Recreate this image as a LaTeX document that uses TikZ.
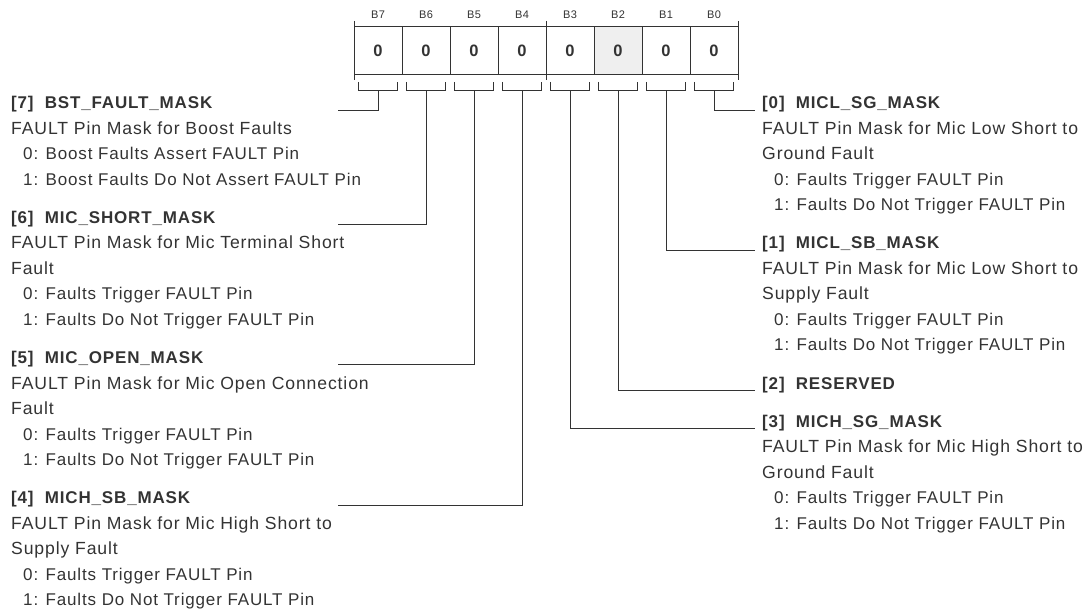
\documentclass[tikz,border=0pt]{standalone}
\usepackage{fontspec}
\setmainfont{Liberation Sans}[LetterSpace=5]
\definecolor{ink}{HTML}{333333}
\definecolor{cellgray}{HTML}{EFEFEF}
% value lines: a bit smaller and indented
\newcommand{\subind}{\fontsize{17}{17}\selectfont\hspace*{12pt}}

\begin{document}
\begin{tikzpicture}[x=1pt, y=-1pt,
    cell/.style={draw=ink, line width=1pt, minimum width=48pt, minimum height=48pt, inner sep=0pt,
                 font=\fontsize{16.5}{16.5}\selectfont\bfseries, text=ink},
    hdr/.style={font=\fontsize{11}{11}\selectfont, text=ink},
    ttl/.style={anchor=base west, inner sep=0pt, font=\fontsize{17}{17}\selectfont\bfseries, text=ink},
    txt/.style={anchor=base west, inner sep=0pt, font=\fontsize{17.6}{17.6}\selectfont, text=ink},
    lead/.style={draw=ink, line width=1pt}]
    \useasboundingbox (0,0) rectangle (1090,612);

    % register: 8 bits, B2 shaded
    \fill[cellgray] (594,27) rectangle (642,75);
    \foreach \b [count=\i from 0] in {7,6,5,4,3,2,1,0} {
        \node[cell] (c\b) at ({378+48*\i},51) {0};
        \node[hdr] (h\b) at ({378+48*\i},15) {B\b};
        % bracket under each bit
        \draw[lead] ({378+48*\i-19.5},82) -- ++(0,9) -- ++(39,0) -- ++(0,-9);
        \coordinate (k\b) at ({378+48*\i},91);
    }
    \foreach \x in {354,546,738}
        \draw[lead] (\x,21) -- (\x,80);

    % left column
    \node[ttl] (f7) at (11,109) {[7]~~BST\_FAULT\_MASK};
    \foreach \l [count=\i] in {{FAULT Pin Mask for Boost Faults},
                               {\subind0: Boost Faults Assert FAULT Pin},
                               {\subind1: Boost Faults Do Not Assert FAULT Pin}}
        \node[txt] at (11,{109+25.5*\i}) {\l};

    \node[ttl] (f6) at (11,223.5) {[6]~~MIC\_SHORT\_MASK};
    \foreach \l [count=\i] in {{FAULT Pin Mask for Mic Terminal Short},{Fault},
                               {\subind0: Faults Trigger FAULT Pin},
                               {\subind1: Faults Do Not Trigger FAULT Pin}}
        \node[txt] at (11,{223.5+25.5*\i}) {\l};

    \node[ttl] (f5) at (11,363.5) {[5]~~MIC\_OPEN\_MASK};
    \foreach \l [count=\i] in {{FAULT Pin Mask for Mic Open Connection},{Fault},
                               {\subind0: Faults Trigger FAULT Pin},
                               {\subind1: Faults Do Not Trigger FAULT Pin}}
        \node[txt] at (11,{363.5+25.5*\i}) {\l};

    \node[ttl] (f4) at (11,503.5) {[4]~~MICH\_SB\_MASK};
    \foreach \l [count=\i] in {{FAULT Pin Mask for Mic High Short to},{Supply Fault},
                               {\subind0: Faults Trigger FAULT Pin},
                               {\subind1: Faults Do Not Trigger FAULT Pin}}
        \node[txt] at (11,{503.5+25.5*\i}) {\l};

    % right column
    \node[ttl] (f0) at (762,109) {[0]~~MICL\_SG\_MASK};
    \foreach \l [count=\i] in {{FAULT Pin Mask for Mic Low Short to},{Ground Fault},
                               {\subind0: Faults Trigger FAULT Pin},
                               {\subind1: Faults Do Not Trigger FAULT Pin}}
        \node[txt] at (762,{109+25.5*\i}) {\l};

    \node[ttl] (f1) at (762,249) {[1]~~MICL\_SB\_MASK};
    \foreach \l [count=\i] in {{FAULT Pin Mask for Mic Low Short to},{Supply Fault},
                               {\subind0: Faults Trigger FAULT Pin},
                               {\subind1: Faults Do Not Trigger FAULT Pin}}
        \node[txt] at (762,{249+25.5*\i}) {\l};

    \node[ttl] (f2) at (762,389) {[2]~~RESERVED};

    \node[ttl] (f3) at (762,427) {[3]~~MICH\_SG\_MASK};
    \foreach \l [count=\i] in {{FAULT Pin Mask for Mic High Short to},{Ground Fault},
                               {\subind0: Faults Trigger FAULT Pin},
                               {\subind1: Faults Do Not Trigger FAULT Pin}}
        \node[txt] at (762,{427+25.5*\i}) {\l};

    % leaders
    \coordinate (e7) at (338,110.5);
    \coordinate (e6) at (338,225);
    \coordinate (e5) at (338,365);
    \coordinate (e4) at (338,505);
    \foreach \b in {7,6,5,4}
        \draw[lead] (k\b) |- (e\b);
    \foreach \b in {0,1,2,3}
        \draw[lead] (k\b) |- ([shift={(-7pt,-1.5pt)}]f\b.base west);
\end{tikzpicture}
\end{document}
